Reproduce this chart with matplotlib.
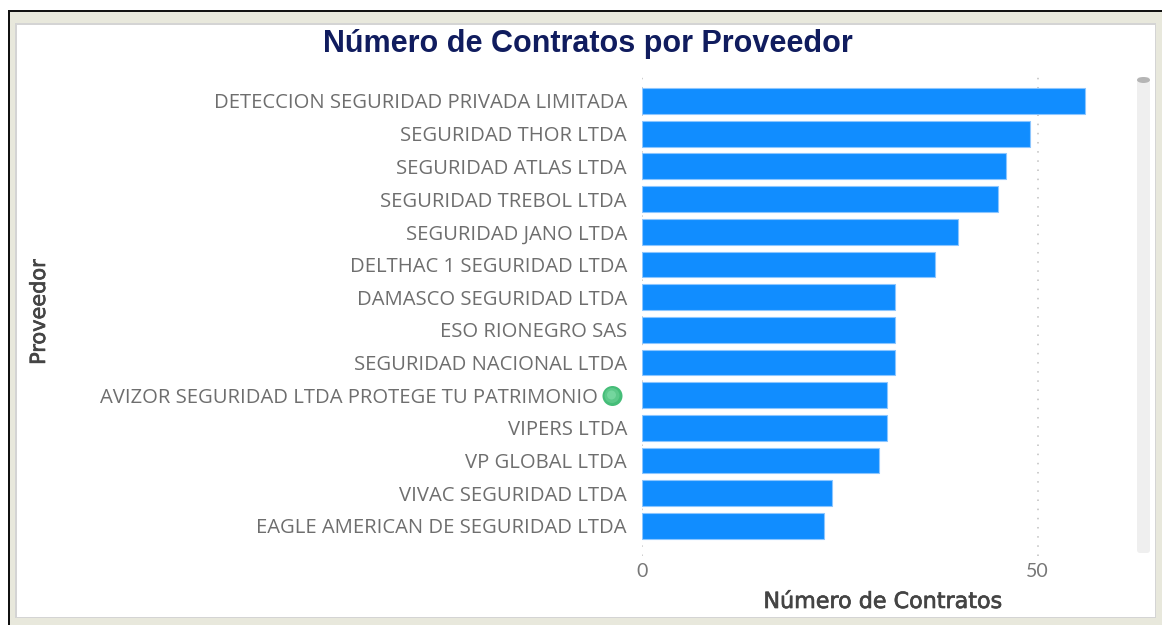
#!/usr/bin/env python3

import matplotlib
matplotlib.use('Agg')
import matplotlib.pyplot as plt
from matplotlib.patches import Rectangle, Ellipse, FancyBboxPatch
from matplotlib.transforms import IdentityTransform
import matplotlib.patheffects as pe

proveedores = [
    'DETECCION SEGURIDAD PRIVADA LIMITADA',
    'SEGURIDAD THOR LTDA',
    'SEGURIDAD ATLAS LTDA',
    'SEGURIDAD TREBOL LTDA',
    'SEGURIDAD JANO LTDA',
    'DELTHAC 1 SEGURIDAD LTDA',
    'DAMASCO SEGURIDAD LTDA',
    'ESO RIONEGRO SAS',
    'SEGURIDAD NACIONAL LTDA',
    'AVIZOR SEGURIDAD LTDA PROTEGE TU PATRIMONIO',
    'VIPERS LTDA',
    'VP GLOBAL LTDA',
    'VIVAC SEGURIDAD LTDA',
    'EAGLE AMERICAN DE SEGURIDAD LTDA',
]
contratos = [56, 49, 46, 45, 40, 37, 32, 32, 32, 31, 31, 30, 24, 23]
x_ticks = [0, 50]

W, H = 1162, 625


def fx(px):
    return px / W


def fy(py):
    return 1 - py / H


def frame_rect(x0, y0, x1, y1, **kw):
    # rectangle given in image pixels, y going down
    r = Rectangle((fx(x0), fy(y1)), (x1 - x0) / W, (y1 - y0) / H,
                  transform=fig.transFigure, **kw)
    fig.add_artist(r)
    return r


fig = plt.figure(figsize=(W / 100, H / 100), dpi=100, facecolor='white')

# screenshot frame
frame_rect(8, 10, W, H, facecolor='#e8e8dc', edgecolor='none', zorder=-5)
frame_rect(8, 10, 10, H, facecolor='#111111', edgecolor='none', zorder=-4)
frame_rect(8, 10, W, 11.5, facecolor='#111111', edgecolor='none', zorder=-4)
frame_rect(15, 23, 1156, 618, facecolor='#d4d4d4', edgecolor='none', zorder=-3)
frame_rect(16.5, 24.5, 1155, 616.5, facecolor='white', edgecolor='none', zorder=-2)

# scrollbar, rounded track in pixel coords
track = FancyBboxPatch((1140, H - 550), 7, 470, boxstyle='round,pad=3',
                       transform=IdentityTransform(), facecolor='#efefef',
                       edgecolor='none', zorder=-1)
fig.add_artist(track)
fig.add_artist(Ellipse((fx(1143.5), fy(80)), 13 / W, 6 / H,
                       transform=fig.transFigure, facecolor='#b5b5b5', edgecolor='none'))

ax = fig.add_axes([fx(642), fy(556), (1130 - 642) / W, (556 - 77) / H])
ax.patch.set_alpha(0)

pos = list(range(len(proveedores)))
ax.barh(pos, contratos, height=0.79, color='#118dff', edgecolor='#8cc6ff', linewidth=0.8, zorder=3)

ax.set_ylim(13.92, -0.734)
ax.set_xlim(0, 61.69)

ax.set_yticks(pos)
ax.set_yticklabels(proveedores, family='Open Sans', fontsize=14.6, color='#6e6e6e')
ax.get_yticklabels()[9].set_x(-29.5 / 488)
ax.set_xticks(x_ticks)
ax.set_xticklabels([str(t) for t in x_ticks], family='Lato', fontsize=14, color='#777777')
ax.tick_params(axis='both', length=0)
ax.tick_params(axis='y', pad=15 * 72 / 100)
ax.tick_params(axis='x', pad=5)

ax.grid(axis='x', color='#c0c0c0', linestyle=(0, (1, 5)), linewidth=1.1, zorder=1)
for s in ax.spines.values():
    s.set_visible(False)

# axis titles look medium weight in the original, thicken a bit
thick = [pe.withStroke(linewidth=0.5, foreground='#444444')]

fig.text(fx(588), fy(44), 'Número de Contratos por Proveedor', family='Liberation Sans',
         fontweight='bold', fontsize=22, color='#101c5e', ha='center', va='center')
fig.text(fx(883), fy(602), 'Número de Contratos', family='DejaVu Sans',
         fontsize=16, color='#444444', ha='center', va='center', path_effects=thick)
fig.text(fx(39), fy(312), 'Proveedor', family='DejaVu Sans', fontsize=15,
         color='#444444', rotation=90, ha='center', va='center', path_effects=thick)

# green status dot next to AVIZOR
for d, c, dx, dy in [(20, '#45bd78', 0, 0), (15, '#5cc98a', -0.5, -0.5), (9, '#74d69e', -1, -1)]:
    fig.add_artist(Ellipse((fx(612.5 + dx), fy(396 + dy)), d / W, d / H,
                           transform=fig.transFigure, facecolor=c, edgecolor='none', zorder=5))

fig.savefig('out.png', dpi=100)
